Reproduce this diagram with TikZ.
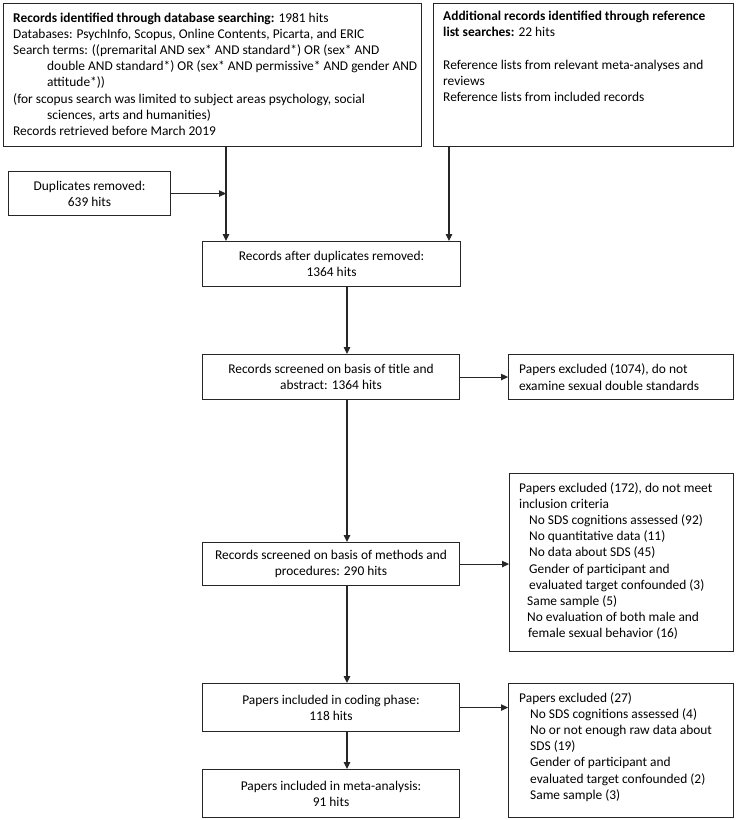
\documentclass[tikz,border=0pt]{standalone}
\usepackage{fontspec}
\setmainfont{Carlito}
\usetikzlibrary{arrows.meta}
\begin{document}
\begin{tikzpicture}[x=1pt,y=-1pt,
  box/.style={draw=black!85, line width=1.1pt, inner sep=0pt, anchor=north west, align=center, font=\fontsize{13.4}{16.2}\selectfont, text=black},
  txt/.style={inner sep=0pt, align=left, font=\fontsize{13.4}{16.2}\selectfont, text=black},
  arr/.style={draw=black!85, line width=1.1pt, -{Triangle[length=7pt,width=6.5pt]}}]
\useasboundingbox (0,0) rectangle (736,820);
% boxes
\node[box, minimum width=418pt, minimum height=143pt] (A) at (3,3) {};
\node[box, minimum width=300pt, minimum height=143pt] (B) at (433,3) {};
\node[box, minimum width=162pt, minimum height=44pt] (D) at (8,171) {Duplicates removed:\\639 hits};
\node[box, minimum width=258pt, minimum height=45pt] (R) at (202,241) {Records after duplicates removed:\\1364 hits};
\node[box, minimum width=257pt, minimum height=45pt] (S1) at (202,354) {Records screened on basis of title and\\abstract: 1364 hits};
\node[box, minimum width=225pt, minimum height=45pt] (E1) at (508,354) {};
\node[box, minimum width=257pt, minimum height=43pt] (S2) at (202,542) {Records screened on basis of methods and\\procedures: 290 hits};
\node[box, minimum width=224pt, minimum height=178pt] (E2) at (509,473) {};
\node[box, minimum width=257pt, minimum height=48pt] (C) at (202,683) {Papers included in coding phase:\\118 hits};
\node[box, minimum width=225pt, minimum height=134pt] (E3) at (508,683) {};
\node[box, minimum width=257pt, minimum height=48pt] (M) at (202,769) {Papers included in meta-analysis:\\91 hits};
% texts
\node[txt, anchor=north west] (At) at (13,12.5) {\textbf{Records identified through database searching:} 1981 hits\\
Databases: PsychInfo, Scopus, Online Contents, Picarta, and ERIC\\
Search terms: ((premarital AND sex* AND standard*) OR (sex* AND\\
\hspace*{34pt}double AND standard*) OR (sex* AND permissive* AND gender AND\\
\hspace*{34pt}attitude*))\\
(for scopus search was limited to subject areas psychology, social\\
\hspace*{34pt}sciences, arts and humanities)\\
Records retrieved before March 2019};
\node[txt, anchor=north west] (Bt) at (443,11) {\textbf{Additional records identified through reference}\\
\textbf{list searches:} 22 hits\\[16.2pt]
Reference lists from relevant meta-analyses and\\
reviews\\
Reference lists from included records};
\node[txt, anchor=west] (E1t) at ([xshift=11pt]E1.west) {Papers excluded (1074), do not\\examine sexual double standards};
\node[txt, anchor=north west] (E2t) at (519,482) {Papers excluded (172), do not meet\\
inclusion criteria\\
\hspace*{10pt}No SDS cognitions assessed (92)\\
\hspace*{10pt}No quantitative data (11)\\
\hspace*{10pt}No data about SDS (45)\\
\hspace*{10pt}Gender of participant and\\
\hspace*{10pt}evaluated target confounded (3)\\
\hspace*{8pt}Same sample (5)\\
\hspace*{8pt}No evaluation of both male and\\
\hspace*{9pt}female sexual behavior (16)};
\node[txt, anchor=north west] (E3t) at (519,692) {Papers excluded (27)\\
\hspace*{11pt}No SDS cognitions assessed (4)\\
\hspace*{11pt}No or not enough raw data about\\
\hspace*{11pt}SDS (19)\\
\hspace*{11pt}Gender of participant and\\
\hspace*{11pt}evaluated target confounded (2)\\
\hspace*{11pt}Same sample (3)};
% helper coordinates
\coordinate (xl) at (226,0);
\coordinate (xr) at (449,0);
\coordinate (xm) at (347,0);
% connectors
\draw[arr] (A.south -| xl) -- (R.north -| xl);
\draw[arr] (B.south -| xr) -- (R.north -| xr);
\draw[arr] (D.east) -- (D.east -| xl);
\draw[arr] (R.south -| xm) -- (S1.north -| xm);
\draw[arr] (S1.east) -- (E1.west |- S1.east);
\draw[arr] (S1.south -| xm) -- (S2.north -| xm);
\draw[arr] (S2.east) -- (E2.west |- S2.east);
\draw[arr] (S2.south -| xm) -- (C.north -| xm);
\draw[arr] (C.east) -- (E3.west |- C.east);
\draw[arr] (C.south -| xm) -- (M.north -| xm);
\end{tikzpicture}
\end{document}
